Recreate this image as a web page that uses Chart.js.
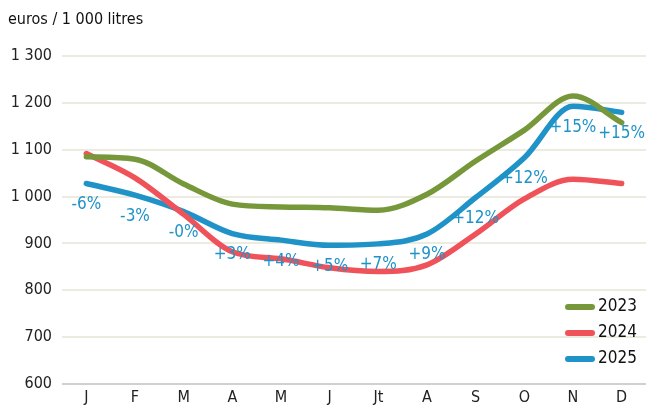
<!DOCTYPE html>
<html>
<head>
<meta charset="utf-8">
<script src="https://cdn.jsdelivr.net/npm/chart.js@4/dist/chart.umd.min.js"></script>
<style>
html,body{margin:0;padding:0;background:#fff;}
#wrap{width:646px;height:407px;position:relative;}
</style>
</head>
<body>
<div id="wrap"><canvas id="c" width="646" height="407"></canvas></div>
<script>
const months = ["J","F","M","A","M","J","Jt","A","S","O","N","D"];
const s2023 = [1085,1080,1027,984,978,976,971,1005,1076,1142,1215,1158];
const s2024 = [1092,1040,962,882,867,848,840,854,920,995,1037,1028];
const s2025 = [1028,1003,968,921,907,896,899,920,998,1083,1193,1180];
const pctLabels = ["-6%","-3%","-0%","+3%","+4%","+5%","+7%","+9%","+12%","+12%","+15%","+15%"];
const seriesNames = ["2023","2024","2025"];
const colors = ["#77983a","#f0525a","#1f93c8"];
const yTicks = [600,700,800,900,1000,1100,1200,1300];
const FONT = "'Liberation Sans Narrow','DejaVu Sans Condensed','Liberation Sans',sans-serif";

const pctPlugin = {
  id:'pct',
  afterDatasetsDraw(chart){
    const meta = chart.getDatasetMeta(2);
    const ctx = chart.ctx;
    ctx.save();
    ctx.font = "17px " + FONT;
    ctx.fillStyle = colors[2];
    ctx.textAlign = 'center';
    ctx.textBaseline = 'middle';
    meta.data.forEach((pt,i)=>{
      ctx.fillText(pctLabels[i], pt.x, pt.y + 21);
    });
    ctx.restore();
  }
};
const legendPlugin = {
  id:'customLegend',
  afterDraw(chart){
    const ctx = chart.ctx;
    ctx.save();
    ctx.font = "17px " + FONT;
    ctx.textBaseline = 'middle';
    ctx.textAlign = 'left';
    chart.data.datasets.forEach((ds,i)=>{
      const y = 307 + i*26;
      ctx.strokeStyle = ds.borderColor;
      ctx.lineWidth = 6;
      ctx.lineCap = 'round';
      ctx.beginPath(); ctx.moveTo(568,y); ctx.lineTo(592,y); ctx.stroke();
      ctx.fillStyle = '#111';
      ctx.fillText(ds.label, 598, y);
    });
    ctx.restore();
  }
};

new Chart(document.getElementById('c'),{
  type:'line',
  data:{
    labels: months,
    datasets:[
      {label:seriesNames[0],data:s2023,borderColor:colors[0],backgroundColor:colors[0]},
      {label:seriesNames[1],data:s2024,borderColor:colors[1],backgroundColor:colors[1]},
      {label:seriesNames[2],data:s2025,borderColor:colors[2],backgroundColor:colors[2]}
    ]
  },
  options:{
    responsive:false,
    animation:false,
    devicePixelRatio:1,
    layout:{padding:{left:8,right:0,top:8,bottom:-4}},
    elements:{
      line:{borderWidth:5.5,tension:0.4,cubicInterpolationMode:'monotone',borderCapStyle:'round'},
      point:{radius:0}
    },
    plugins:{
      legend:{display:false},
      tooltip:{enabled:false},
      title:{display:true,text:'euros / 1 000 litres',align:'start',color:'#111',
        font:{family:FONT,size:16,weight:'normal'},padding:{top:2,bottom:27}}
    },
    scales:{
      x:{
        offset:true,
        grid:{display:false,drawTicks:false},
        border:{display:false},
        ticks:{color:'#222',font:{family:FONT,size:16},padding:4}
      },
      y:{
        min:600,max:1300,
        afterBuildTicks(axis){axis.ticks = yTicks.map(v=>({value:v}));},
        afterFit(axis){axis.width = 54;},
        grid:{color:(c)=>c.tick && c.tick.value===600 ? '#d0d0d0' : '#ebebdf',lineWidth:2,drawTicks:false},
        border:{display:false},
        ticks:{color:'#222',font:{family:FONT,size:16},padding:10,
          callback:(v)=> v>=1000 ? Math.floor(v/1000)+' '+String(v%1000).padStart(3,'0') : String(v)}
      }
    }
  },
  plugins:[pctPlugin,legendPlugin]
});
</script>
</body>
</html>
